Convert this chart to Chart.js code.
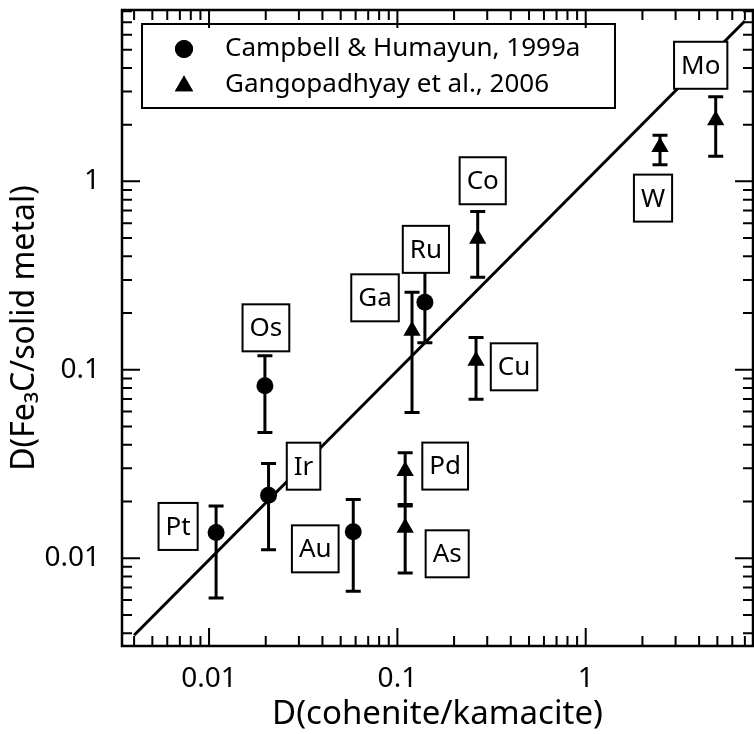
<!DOCTYPE html>
<html>
<head>
<meta charset="utf-8">
<script src="https://cdn.jsdelivr.net/npm/chart.js@4"></script>
<style>
  html, body { margin: 0; padding: 0; background: #fff; }
</style>
</head>
<body>
<canvas id="myChart" width="754" height="734"></canvas>
<script>
// Campbell & Humayun, 1999a (circles)
var campbellNames = ['Pt', 'Ir', 'Os', 'Au', 'Ru'];
var campbellX = [0.0109, 0.0207, 0.0198, 0.0583, 0.140];
var campbellY = [0.0137, 0.0216, 0.0822, 0.0138, 0.228];
var campbellLow = [0.00615, 0.0111, 0.0464, 0.00667, 0.139];
var campbellHigh = [0.0189, 0.0318, 0.1187, 0.0205, 0.344];

// Gangopadhyay et al., 2006 (triangles)
var gangoNames = ['Ga', 'Pd', 'As', 'Cu', 'Co', 'W', 'Mo'];
var gangoX = [0.1196, 0.110, 0.110, 0.2616, 0.267, 2.48, 4.9];
var gangoY = [0.161, 0.029, 0.0145, 0.1116, 0.496, 1.52, 2.11];
var gangoLow = [0.0593, 0.0189, 0.00835, 0.0698, 0.31, 1.227, 1.36];
var gangoHigh = [0.258, 0.0363, 0.0193, 0.1485, 0.692, 1.757, 2.81];

// 1:1 reference line
var oneToOneX = [0.004, 7.0];
var oneToOneY = [0.0039, 7.1];

var xTickValues = [0.01, 0.1, 1];
var xTickLabels = ['0.01', '0.1', '1'];
var yTickValues = [0.01, 0.1, 1];
var yTickLabels = ['0.01', '0.1', '1'];

// where each element label box sits, in pixels from its point
var campbellLabelOffset = [[-38, -6], [35, -29], [1, -58], [-38, 17], [1, -53]];
var gangoLabelOffset = [[-37, -33], [40, -5], [42, 26], [38, 6], [5, -58], [-7, 51], [-15, -55]];

var FONT = '"Noto Sans", sans-serif';

function toPoints(xs, ys) {
  return xs.map(function (x, i) { return { x: x, y: ys[i] }; });
}

function drawErrorBars(chart) {
  var ctx = chart.ctx, xs = chart.scales.x, ys = chart.scales.y;
  ctx.save();
  ctx.strokeStyle = '#000';
  ctx.lineWidth = 3;
  [[campbellX, campbellLow, campbellHigh], [gangoX, gangoLow, gangoHigh]].forEach(function (set) {
    set[0].forEach(function (xv, i) {
      var px = xs.getPixelForValue(xv);
      var top = ys.getPixelForValue(set[2][i]);
      var bot = ys.getPixelForValue(set[1][i]);
      ctx.beginPath();
      ctx.moveTo(px, top); ctx.lineTo(px, bot);
      ctx.moveTo(px - 7.5, top); ctx.lineTo(px + 7.5, top);
      ctx.moveTo(px - 7.5, bot); ctx.lineTo(px + 7.5, bot);
      ctx.stroke();
    });
  });
  ctx.restore();
}

function drawBoxLabel(ctx, text, cx, cy) {
  ctx.font = '26px ' + FONT;
  var w = ctx.measureText(text).width + 14, h = 47;
  ctx.fillStyle = '#fff';
  ctx.fillRect(cx - w / 2, cy - h / 2, w, h);
  ctx.lineWidth = 2;
  ctx.strokeStyle = '#000';
  ctx.strokeRect(cx - w / 2, cy - h / 2, w, h);
  ctx.fillStyle = '#000';
  ctx.textAlign = 'center';
  ctx.textBaseline = 'middle';
  ctx.fillText(text, cx, cy + 1);
}

function drawLabels(chart) {
  var ctx = chart.ctx;
  ctx.save();
  [[1, campbellNames, campbellLabelOffset], [2, gangoNames, gangoLabelOffset]].forEach(function (set) {
    var meta = chart.getDatasetMeta(set[0]);
    meta.data.forEach(function (pt, i) {
      drawBoxLabel(ctx, set[1][i], pt.x + set[2][i][0], pt.y + set[2][i][1]);
    });
  });
  ctx.restore();
}

function drawLegend(chart) {
  var ctx = chart.ctx;
  ctx.save();
  ctx.fillStyle = '#fff';
  ctx.fillRect(142, 24, 473, 84);
  ctx.lineWidth = 2;
  ctx.strokeStyle = '#000';
  ctx.strokeRect(142, 24, 473, 84);
  ctx.fillStyle = '#000';
  Chart.helpers.drawPoint(ctx, { pointStyle: 'circle', radius: 9, borderWidth: 0 }, 184, 49);
  ctx.fill();
  Chart.helpers.drawPoint(ctx, { pointStyle: 'triangle', radius: 10.5, borderWidth: 0 }, 184, 86);
  ctx.fill();
  ctx.font = '26px ' + FONT;
  ctx.textAlign = 'left';
  ctx.textBaseline = 'middle';
  ctx.fillText(chart.data.datasets[1].label, 225, 49);
  ctx.fillText(chart.data.datasets[2].label, 225, 85);
  ctx.restore();
}

function drawFrame(chart) {
  var a = chart.chartArea, ctx = chart.ctx, xs = chart.scales.x, ys = chart.scales.y;
  ctx.save();
  ctx.strokeStyle = '#000';
  ctx.lineWidth = 2;
  for (var e = -4; e <= 1; e++) {
    for (var m = 1; m <= 9; m++) {
      var v = m * Math.pow(10, e);
      var len = m === 1 ? 18 : 10;
      ctx.beginPath();
      if (v > xs.min && v < xs.max) {
        var px = xs.getPixelForValue(v);
        ctx.moveTo(px, a.bottom); ctx.lineTo(px, a.bottom - len);
        ctx.moveTo(px, a.top); ctx.lineTo(px, a.top + len);
      }
      if (v > ys.min && v < ys.max) {
        var py = ys.getPixelForValue(v);
        ctx.moveTo(a.left, py); ctx.lineTo(a.left + len, py);
        ctx.moveTo(a.right, py); ctx.lineTo(a.right - len, py);
      }
      ctx.stroke();
    }
  }
  ctx.lineWidth = 2.5;
  ctx.strokeRect(a.left, a.top, a.right - a.left, a.bottom - a.top);
  ctx.restore();
}

var extras = {
  id: 'extras',
  beforeDatasetsDraw: drawErrorBars,
  afterDatasetsDraw: function (chart) {
    drawLabels(chart);
    drawLegend(chart);
  },
  afterDraw: drawFrame
};

var ctx = document.getElementById('myChart').getContext('2d');

var myChart = new Chart(ctx, {
  type: 'scatter',
  data: {
    datasets: [{
      type: 'line',
      label: '1:1',
      data: toPoints(oneToOneX, oneToOneY),
      borderColor: '#000',
      borderWidth: 3,
      pointRadius: 0,
      fill: false,
      order: 3
    }, {
      label: 'Campbell & Humayun, 1999a',
      data: toPoints(campbellX, campbellY),
      pointStyle: 'circle',
      pointRadius: 8.5,
      backgroundColor: '#000',
      borderColor: '#000',
      borderWidth: 0,
      order: 1
    }, {
      label: 'Gangopadhyay et al., 2006',
      data: toPoints(gangoX, gangoY),
      pointStyle: 'triangle',
      pointRadius: 10,
      backgroundColor: '#000',
      borderColor: '#000',
      borderWidth: 0,
      order: 1
    }]
  },
  options: {
    responsive: false,
    animation: false,
    layout: { autoPadding: false, padding: { top: 10, right: 1, left: 0, bottom: 0 } },
    plugins: {
      legend: { display: false },
      tooltip: { enabled: false }
    },
    scales: {
      x: {
        type: 'logarithmic',
        min: 0.00345,
        max: 7.73,
        afterBuildTicks: function (s) { s.ticks = xTickValues.map(function (v) { return { value: v }; }); },
        afterFit: function (s) { s.height = 88; s.paddingLeft = 0; s.paddingRight = 0; },
        grid: { display: false },
        border: { display: false },
        ticks: {
          color: '#000',
          font: { family: FONT, size: 28 },
          padding: 8,
          maxRotation: 0,
          callback: function (v, i) { return xTickLabels[i]; }
        },
        title: {
          display: true,
          text: 'D(cohenite/kamacite)',
          color: '#000',
          font: { family: FONT, size: 33 },
          padding: { top: 0, bottom: 0 }
        }
      },
      y: {
        type: 'logarithmic',
        min: 0.00342,
        max: 8.12,
        afterBuildTicks: function (s) { s.ticks = yTickValues.map(function (v) { return { value: v }; }); },
        afterFit: function (s) { s.width = 122; s.paddingTop = 0; s.paddingBottom = 0; },
        grid: { display: false },
        border: { display: false },
        ticks: {
          color: '#000',
          font: { family: FONT, size: 28 },
          padding: 14,
          callback: function (v, i) { return yTickLabels[i]; }
        },
        title: {
          display: true,
          text: 'D(Fe\u2083C/solid metal)',
          color: '#000',
          font: { family: FONT, size: 32 },
          padding: { top: 6, bottom: 0 }
        }
      }
    }
  },
  plugins: [extras]
});
</script>
</body>
</html>
